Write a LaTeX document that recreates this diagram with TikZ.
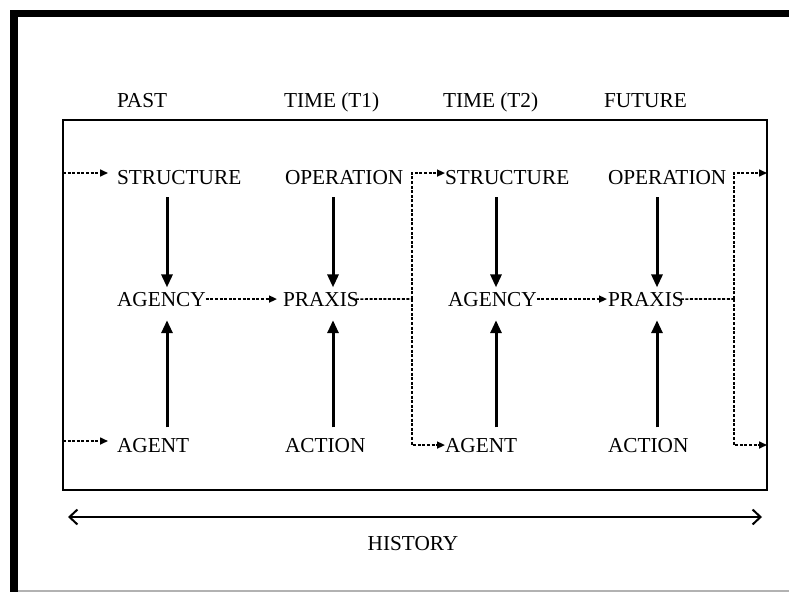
\documentclass[tikz,border=0pt]{standalone}
\usepackage{fontspec}
\setmainfont{Liberation Serif}
\usetikzlibrary{arrows.meta}
\begin{document}
\begin{tikzpicture}[x=1pt,y=-1pt,
  lbl/.style={inner sep=0pt,outer sep=0pt,anchor=base west,font=\fontsize{21.3}{25}\selectfont},
  causal/.style={line width=3pt,-{Triangle[length=13pt,width=11pt]}},
  flowline/.style={line width=1.6pt,dash pattern=on 3pt off 1.6pt},
  flow/.style={flowline,-{Triangle[length=8pt,width=7pt]}},
  history/.style={line width=2pt,{Straight Barb[length=8pt,width=15pt]}-{Straight Barb[length=8pt,width=15pt]}},
  ]
\useasboundingbox (0,0) rectangle (789,592);

% page frame
\fill (10,10) rectangle (789,17);
\fill (10,10) rectangle (18,592);
\draw[gray!60, line width=1.5pt] (18,591) -- (789,591);

% inner box
\coordinate (boxNW) at (63,120);
\coordinate (boxSE) at (767,490);
\draw[line width=2pt] (boxNW) rectangle (boxSE);

% column headings
\node[lbl] (hPast) at (117,107) {PAST};
\node[lbl] (hT1)   at (284,107) {TIME (T1)};
\node[lbl] (hT2)   at (443,107) {TIME (T2)};
\node[lbl] (hFut)  at (604,107) {FUTURE};

% first cycle
\node[lbl] (s1)  at (117,184) {STRUCTURE};
\node[lbl] (ag1) at (117,306) {AGENCY};
\node[lbl] (a1)  at (117,452) {AGENT};
\node[lbl] (o1)  at (285,184) {OPERATION};
\node[lbl] (p1)  at (283,306) {PRAXIS};
\node[lbl] (ac1) at (285,452) {ACTION};

% second cycle
\node[lbl] (s2)  at (445,184) {STRUCTURE};
\node[lbl] (ag2) at (448,306) {AGENCY};
\node[lbl] (a2)  at (445,452) {AGENT};
\node[lbl] (o2)  at (608,184) {OPERATION};
\node[lbl] (p2)  at (608,306) {PRAXIS};
\node[lbl] (ac2) at (608,452) {ACTION};

% vertical axes of the solid arrows
\coordinate (c1) at (167,0);
\coordinate (c2) at (333,0);
\coordinate (c3) at (496,0);
\coordinate (c4) at (657,0);

\draw[causal, shorten <=13pt, shorten >=4.5pt] (s1.south -| c1) -- (ag1.north -| c1);
\draw[causal, shorten <=10.5pt, shorten >=14pt] (a1.north -| c1) -- (ag1.south -| c1);
\draw[causal, shorten <=13pt, shorten >=4.5pt] (o1.south -| c2) -- (p1.north -| c2);
\draw[causal, shorten <=10.5pt, shorten >=14pt] (ac1.north -| c2) -- (p1.south -| c2);
\draw[causal, shorten <=13pt, shorten >=4.5pt] (s2.south -| c3) -- (ag2.north -| c3);
\draw[causal, shorten <=10.5pt, shorten >=14pt] (a2.north -| c3) -- (ag2.south -| c3);
\draw[causal, shorten <=13pt, shorten >=4.5pt] (o2.south -| c4) -- (p2.north -| c4);
\draw[causal, shorten <=10.5pt, shorten >=14pt] (ac2.north -| c4) -- (p2.south -| c4);

% dashed flows entering from the left
\coordinate (in1) at (63,173);
\coordinate (in2) at (63,441);
\draw[flow, shorten >=9pt] (in1) -- (s1.west |- in1);
\draw[flow, shorten >=9pt] (in2) -- (a1.west |- in2);

% agency to praxis
\draw[flow, shorten >=6pt] (ag1.east) -- (p1.west);
\draw[flow, shorten >=1pt] (ag2.east) -- (p2.west);

% praxis feeding the next structure and agent
\coordinate (j1) at (412,299);
\draw[flowline] ([xshift=-3pt]p1.east) -- (j1);
\draw[flow] (j1) |- ([yshift=4pt]s2.west);
\draw[flow] (j1) |- (a2.west);

\coordinate (j2) at (734,299);
\coordinate (out1) at (767,173);
\coordinate (out2) at (767,445);
\draw[flowline] ([xshift=-3pt]p2.east) -- (j2);
\draw[flow] (j2) |- (out1);
\draw[flow] (j2) |- (out2);

% history
\coordinate (hl) at (68,517);
\coordinate (hr) at (762,517);
\draw[history] (hl) -- (hr);
\node[lbl, anchor=base] (hist) at (413,550) {HISTORY};
\end{tikzpicture}
\end{document}
